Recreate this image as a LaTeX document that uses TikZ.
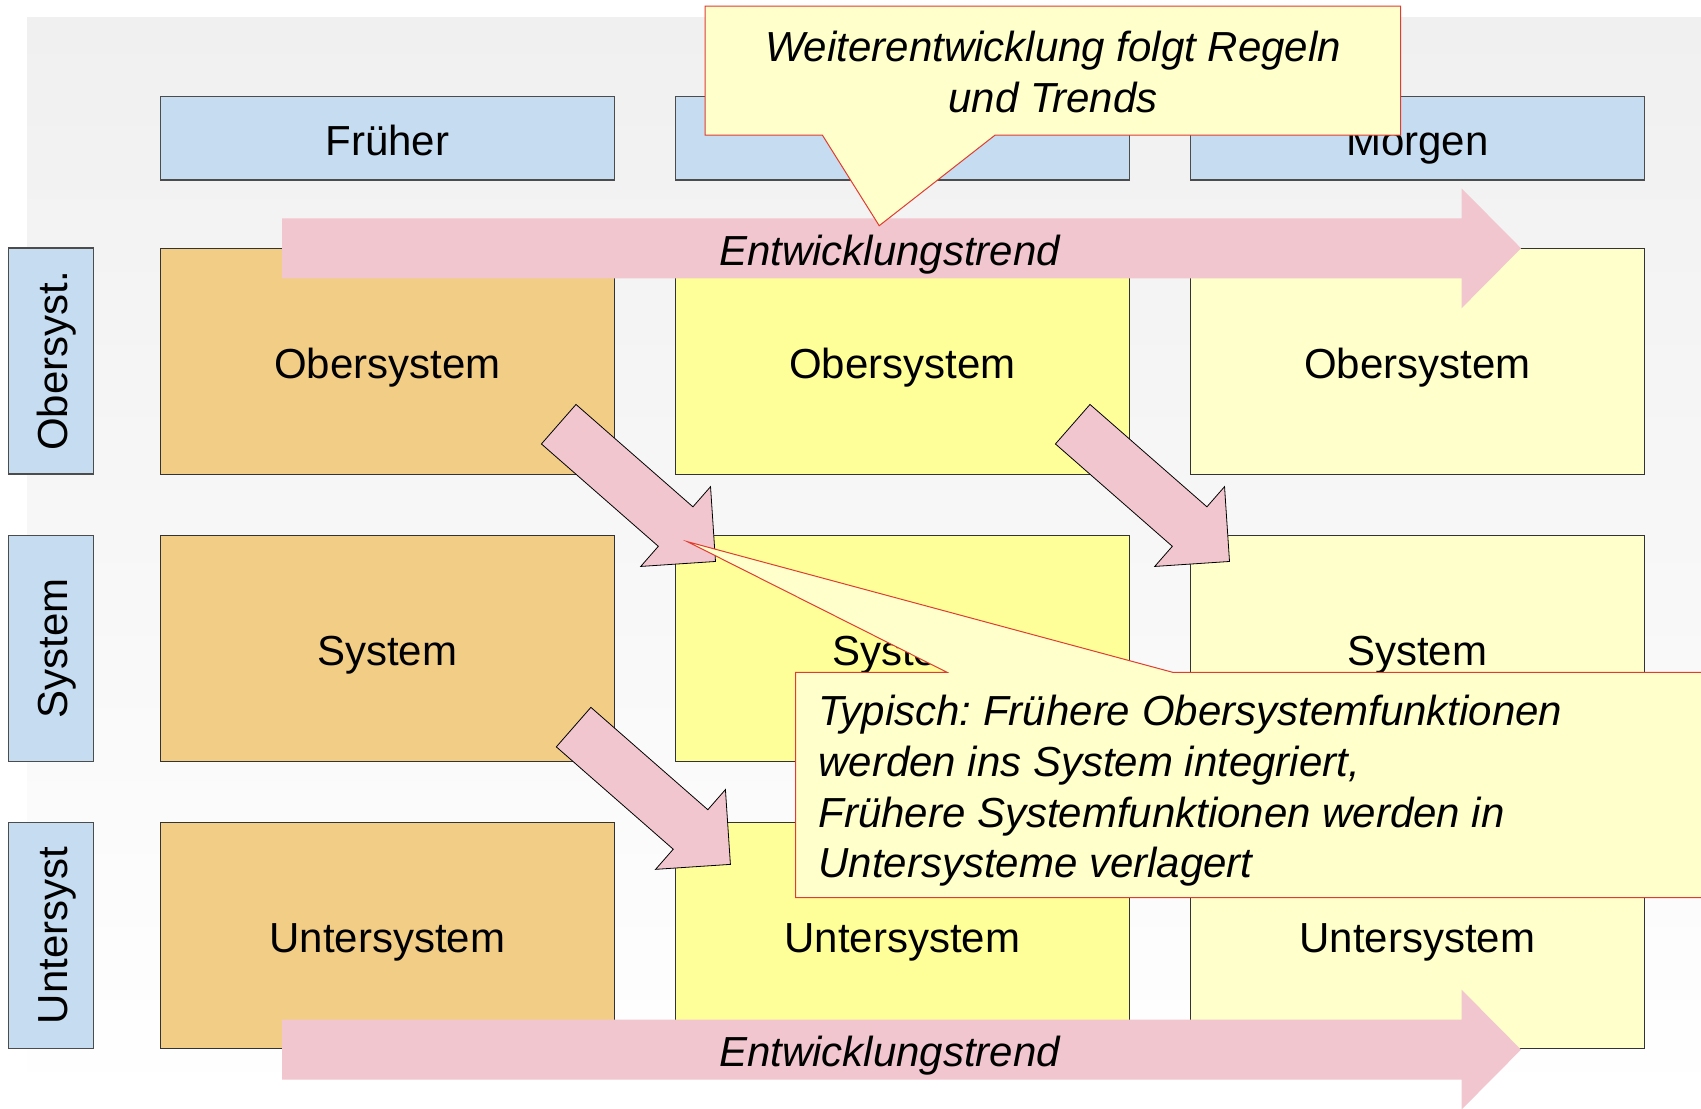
\documentclass[tikz,border=0pt]{standalone}
\usepackage{fontspec}
\setmainfont{Liberation Sans}
\usetikzlibrary{positioning}
\frenchspacing

\definecolor{headblue}{HTML}{C6DCF0}
\definecolor{pastorange}{HTML}{F2CD86}
\definecolor{nowyellow}{HTML}{FFFF99}
\definecolor{nextyellow}{HTML}{FFFFCC}
\definecolor{trendpink}{HTML}{F2C6CE}
\definecolor{noteyellow}{HTML}{FFFFCC}
\definecolor{notered}{HTML}{E03C31}
\definecolor{bggrey}{HTML}{F0F0F0}

\newcommand{\sidelabel}[1]{\rotatebox{90}{\raisebox{0pt}[21pt][4pt]{#1}}}

\begin{document}
\begin{tikzpicture}[x=0.5pt,y=-0.5pt,
  every node/.style={font=\fontsize{21}{25.3}\selectfont,inner sep=0pt},
  sysbox/.style={rectangle,draw=black!80,line width=0.5pt,minimum width=227pt,minimum height=113pt,text height=21pt,text depth=4pt},
  headbox/.style={rectangle,draw=black!70,line width=0.6pt,fill=headblue,minimum width=227pt,minimum height=41.7pt,text height=21pt,text depth=4pt},
  rowbox/.style={rectangle,draw=black!70,line width=0.6pt,fill=headblue,minimum width=42.3pt,minimum height=113pt},
  trendtext/.style={font=\fontsize{21}{25.3}\selectfont\itshape},
  notebox/.style={fill=noteyellow,draw=notered,line width=0.5pt},
  steparrow/.pic={\filldraw[fill=trendpink,draw=black,line width=0.4pt] (0,-26.25) -- (155.4,-26.25) -- (155.4,-53) -- (208.4,0) -- (155.4,53) -- (155.4,26.25) -- (0,26.25) -- cycle;}]
\useasboundingbox (0,0) rectangle (1701,1108);
\fill[top color=bggrey,bottom color=white] (27,17) rectangle (1701,1108);

% system levels over time
\node[sysbox,fill=pastorange] (ober1) at (387.3,361) {Obersystem};
\node[sysbox,fill=nowyellow,right=30pt of ober1] (ober2) {Obersystem};
\node[sysbox,fill=nextyellow,right=30pt of ober2] (ober3) {Obersystem};
\node[sysbox,fill=pastorange,below=30.3pt of ober1] (sys1) {System};
\node[sysbox,fill=nowyellow,below=30.3pt of ober2] (sys2) {System};
\node[sysbox,fill=nextyellow,below=30.3pt of ober3] (sys3) {System};
\node[sysbox,fill=pastorange,below=30pt of sys1] (unter1) {Untersystem};
\node[sysbox,fill=nowyellow,below=30pt of sys2] (unter2) {Untersystem};
\node[sysbox,fill=nextyellow,below=30pt of sys3] (unter3) {Untersystem};

\node[headbox,above=33.5pt of ober1] (frueher) {Früher};
\node[headbox,above=33.5pt of ober2] (heute) {};
\node[headbox,above=33.5pt of ober3] (morgen) {Morgen};

\node[rowbox,left=33pt of ober1] (oberlabel) {\sidelabel{Obersyst.}};
\node[rowbox,left=33pt of sys1] (syslabel) {\sidelabel{System}};
\node[rowbox,left=33pt of unter1] (unterlabel) {\sidelabel{Untersyst}};

% trend arrows
\fill[trendpink,shift={(0,248.3)}] (282,-30) -- (1461.5,-30) -- (1461.5,-60) -- (1521,0) -- (1461.5,60) -- (1461.5,30) -- (282,30) -- cycle;
\node[trendtext,anchor=base] (trendtop) at (889.5,265) {Entwicklungstrend};
\fill[trendpink,shift={(0,1049.6)}] (282,-30) -- (1461.5,-30) -- (1461.5,-60) -- (1521,0) -- (1461.5,60) -- (1461.5,30) -- (282,30) -- cycle;
\node[trendtext,anchor=base] (trendbottom) at (889.5,1066.3) {Entwicklungstrend};

\pic[rotate=-41.2] at (558.7,424.2) {steparrow};
\pic[rotate=-41.2] at (1072.7,424.2) {steparrow};
\pic[rotate=-41.2] at (573.6,727.1) {steparrow};

% callouts
\filldraw[notebox] (705,6) -- (1400.7,6) -- (1400.7,135) -- (995.2,135) -- (879.2,225.7) -- (822.3,135) -- (705,135) -- cycle;
\node[trendtext,align=center] (rulenote) at (1053,72) {Weiterentwicklung folgt Regeln\\und Trends};
\filldraw[notebox] (795.5,672.3) -- (947,672.3) -- (687.5,541.7) -- (1172.7,672.3) -- (1720,672.3) -- (1720,897.7) -- (795.5,897.7) -- cycle;
\node[trendtext,align=left,anchor=north west] (shiftnote) at (818,695) {Typisch: Frühere Obersystemfunktionen\\werden ins System integriert,\\Frühere Systemfunktionen werden in\\Untersysteme verlagert};
\end{tikzpicture}
\end{document}
